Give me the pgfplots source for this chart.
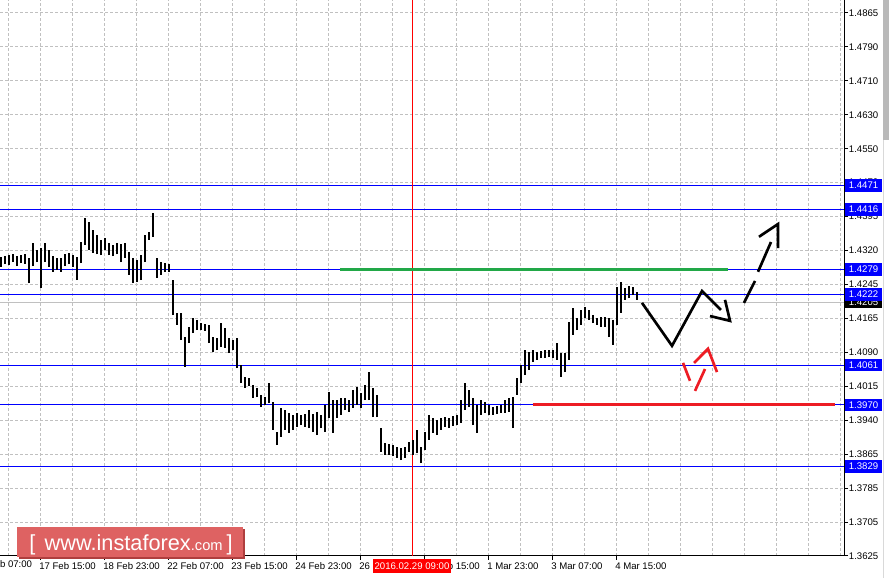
\documentclass[border=0pt]{standalone}
\usepackage{pgfplots}
\pgfplotsset{compat=1.18}
\usepackage{pgfplotstable}
\usepackage{fontspec}
\setmainfont{Liberation Sans}

\definecolor{gridgray}{RGB}{192,192,192}
\definecolor{lvlblue}{RGB}{0,0,255}
\definecolor{mtgreen}{RGB}{34,168,72}
\definecolor{mtred}{RGB}{237,28,36}
\definecolor{wmred}{RGB}{222,98,98}
\definecolor{wmdark}{RGB}{175,62,62}

% hourly bars, every second one kept: x position (chart px), high, low
\pgfplotstableread{
x h l
1 1.4308 1.4285
5 1.4310 1.4292
9 1.4312 1.4290
13 1.4314 1.4296
17 1.4310 1.4287
21 1.4312 1.4294
25 1.4314 1.4292
29 1.4305 1.4248
33 1.4340 1.4287
37 1.4324 1.4296
41 1.4328 1.4237
45 1.4340 1.4296
49 1.4324 1.4285
53 1.4310 1.4274
57 1.4305 1.4278
61 1.4305 1.4274
65 1.4314 1.4287
69 1.4317 1.4292
73 1.4312 1.4285
77 1.4308 1.4255
81 1.4342 1.4294
85 1.4397 1.4335
89 1.4388 1.4324
93 1.4370 1.4317
97 1.4358 1.4314
101 1.4347 1.4312
105 1.4351 1.4324
109 1.4340 1.4312
113 1.4335 1.4310
117 1.4340 1.4314
121 1.4338 1.4296
125 1.4340 1.4305
129 1.4319 1.4267
133 1.4305 1.4248
137 1.4301 1.4251
141 1.4312 1.4255
145 1.4358 1.4296
149 1.4365 1.4347
153 1.4408 1.4354
157 1.4305 1.4260
161 1.4296 1.4267
165 1.4294 1.4274
169 1.4292 1.4274
173 1.4255 1.4175
177 1.4180 1.4153
181 1.4180 1.4118
185 1.4125 1.4057
189 1.4148 1.4111
193 1.4168 1.4134
197 1.4164 1.4141
201 1.4157 1.4141
205 1.4155 1.4139
209 1.4153 1.4111
213 1.4125 1.4091
217 1.4123 1.4095
221 1.4157 1.4102
225 1.4146 1.4100
229 1.4123 1.4088
233 1.4118 1.4095
237 1.4123 1.4054
241 1.4061 1.4020
245 1.4034 1.4009
249 1.4031 1.4013
253 1.4015 1.3986
257 1.4009 1.3988
261 1.3993 1.3965
265 1.3988 1.3970
269 1.4020 1.3974
273 1.3977 1.3913
277 1.3908 1.3878
281 1.3963 1.3897
285 1.3958 1.3913
289 1.3952 1.3906
293 1.3947 1.3913
297 1.3952 1.3920
301 1.3947 1.3924
305 1.3949 1.3920
309 1.3958 1.3917
313 1.3949 1.3908
317 1.3954 1.3901
321 1.3947 1.3917
325 1.3970 1.3908
329 1.3999 1.3940
333 1.3981 1.3906
337 1.3981 1.3940
341 1.3986 1.3947
345 1.3986 1.3958
349 1.3981 1.3954
353 1.4004 1.3963
357 1.4011 1.3970
361 1.3997 1.3963
365 1.4015 1.3981
369 1.4045 1.3981
373 1.4009 1.3942
377 1.3993 1.3942
381 1.3917 1.3863
385 1.3883 1.3856
389 1.3881 1.3856
393 1.3879 1.3853
397 1.3874 1.3849
401 1.3872 1.3844
405 1.3874 1.3849
409 1.3885 1.3863
413 1.3890 1.3856
417 1.3913 1.3860
421 1.3874 1.3837
425 1.3908 1.3867
429 1.3947 1.3890
433 1.3940 1.3906
437 1.3936 1.3901
441 1.3940 1.3913
445 1.3942 1.3920
449 1.3940 1.3917
453 1.3945 1.3922
457 1.3947 1.3924
461 1.3981 1.3929
465 1.4020 1.3958
469 1.4004 1.3965
473 1.3986 1.3924
477 1.3970 1.3906
481 1.3981 1.3947
485 1.3977 1.3952
489 1.3970 1.3947
493 1.3965 1.3947
497 1.3968 1.3949
501 1.3970 1.3952
505 1.3981 1.3952
509 1.3986 1.3954
513 1.3988 1.3917
517 1.4031 1.3993
521 1.4061 1.4020
525 1.4095 1.4038
529 1.4091 1.4050
533 1.4095 1.4068
537 1.4091 1.4073
541 1.4093 1.4077
545 1.4095 1.4077
549 1.4095 1.4079
553 1.4095 1.4077
557 1.4111 1.4073
561 1.4088 1.4034
565 1.4088 1.4045
569 1.4159 1.4073
573 1.4191 1.4130
577 1.4168 1.4141
581 1.4187 1.4153
585 1.4194 1.4168
589 1.4187 1.4164
593 1.4175 1.4157
597 1.4168 1.4153
601 1.4171 1.4148
605 1.4171 1.4148
609 1.4168 1.4125
613 1.4164 1.4107
617 1.4239 1.4153
621 1.4250 1.4180
625 1.4237 1.4210
629 1.4242 1.4214
633 1.4239 1.4221
637 1.4228 1.4210
}\bars

\begin{document}
\begin{tikzpicture}
\begin{axis}[
  at={(0pt,16.5pt)}, anchor=south west,
  scale only axis, width=633pt, height=417pt,
  xmin=0, xmax=844, ymin=1.3625, ymax=1.48947,
  axis x line=bottom, axis y line=right,
  axis line style={-, black, line width=0.75pt},
  tick align=outside, major tick length=3pt, minor tick length=0pt,
  tick style={black, line width=0.75pt},
  xtick={40,104,...,616},
  xticklabels={17 Feb 15:00, 18 Feb 23:00, 22 Feb 07:00, 23 Feb 15:00, 24 Feb 23:00,
    26 Feb 07:00, 29 Feb 15:00, 1 Mar 23:00, 3 Mar 07:00, 4 Mar 15:00},
  minor xtick={8,40,...,840},
  ytick={1.3625,1.37025,1.378,1.38575,1.3935,1.40125,1.409,1.41675,1.4245,
    1.43225,1.44,1.44775,1.4555,1.46325,1.471,1.47875,1.4865},
  yticklabels={1.3625,1.3705,1.3785,1.3865,1.3940,1.4015,1.4090,1.4165,1.4245,
    1.4320,1.4395,1.4470,1.4550,1.4630,1.4710,1.4790,1.4865},
  grid=both,
  major grid style={gridgray, line width=0.75pt, dash pattern=on 2.25pt off 1.5pt},
  minor grid style={gridgray, line width=0.75pt, dash pattern=on 2.25pt off 1.5pt},
  xticklabel style={anchor=north west, inner sep=0pt, xshift=-0.75pt, yshift=-2pt,
    font=\fontsize{7.2}{8}\selectfont},
  yticklabel style={anchor=west, inner sep=0pt, xshift=0.5pt,
    font=\fontsize{7.2}{8}\selectfont},
]
% level lines
\addplot[gridgray, line width=0.75pt] coordinates {(0,1.4205) (844,1.4205)};
\addplot[lvlblue, line width=0.75pt] coordinates {(0,1.4471) (844,1.4471)};
\addplot[lvlblue, line width=0.75pt] coordinates {(0,1.4416) (844,1.4416)};
\addplot[lvlblue, line width=0.75pt] coordinates {(0,1.4279) (844,1.4279)};
\addplot[lvlblue, line width=0.75pt] coordinates {(0,1.4222) (844,1.4222)};
\addplot[lvlblue, line width=0.75pt] coordinates {(0,1.4061) (844,1.4061)};
\addplot[lvlblue, line width=0.75pt] coordinates {(0,1.3970) (844,1.3970)};
\addplot[lvlblue, line width=0.75pt] coordinates {(0,1.3829) (844,1.3829)};
\addplot[red, line width=0.75pt] coordinates {(412,1.3625) (412,1.48947)};
% price bars
\addplot[draw=none, forget plot,
  error bars/.cd, y dir=plus, y explicit, error mark=none,
  error bar style={draw=black, solid, line width=1.1pt}]
  table[x=x, y=l, y error expr=\thisrow{h}-\thisrow{l}] {\bars};
% drawn levels
\addplot[mtgreen, line width=2.2pt] coordinates {(340,1.4279) (728,1.4279)};
\addplot[mtred, line width=2.2pt] coordinates {(533,1.3970) (835,1.3970)};
% forecast arrows
\addplot[black, line width=2pt] coordinates {(642,1.4203) (672,1.4105) (702,1.4230) (721,1.4187)};
\addplot[black, line width=2pt] coordinates {(710,1.4173) (730,1.4162) (725,1.4210)};
\addplot[black, line width=2pt] coordinates {(744,1.4203) (755,1.4253)};
\addplot[black, line width=2pt] coordinates {(758,1.4274) (771,1.4342)};
\addplot[black, line width=2pt] coordinates {(759,1.4354) (778,1.4383) (778,1.4328)};
\addplot[mtred, line width=2pt] coordinates {(683,1.4066) (690,1.4025)};
\addplot[mtred, line width=2pt] coordinates {(695,1.4002) (705,1.4052)};
\addplot[mtred, line width=2pt] coordinates {(694,1.4066) (708,1.4098) (717,1.4045)};
% anchors for price boxes
\coordinate (b1) at (axis cs:863.5,1.4471);
\coordinate (b2) at (axis cs:863.5,1.4416);
\coordinate (b3) at (axis cs:863.5,1.4279);
\coordinate (b4) at (axis cs:863.5,1.4205);
\coordinate (b5) at (axis cs:863.5,1.4222);
\coordinate (b6) at (axis cs:863.5,1.4061);
\coordinate (b7) at (axis cs:863.5,1.3970);
\coordinate (b8) at (axis cs:863.5,1.3829);
\end{axis}

\tikzset{pbox/.style={fill=lvlblue, text=white, font=\fontsize{7.2}{8}\selectfont,
  inner sep=0pt, minimum width=28pt, minimum height=9.5pt}}
\node[pbox] at (b1) {1.4471};
\node[pbox] at (b2) {1.4416};
\node[pbox] at (b3) {1.4279};
\node[pbox, fill=black] at (b4) {1.4205};
\node[pbox] at (b5) {1.4222};
\node[pbox] at (b6) {1.4061};
\node[pbox] at (b7) {1.3970};
\node[pbox] at (b8) {1.3829};

\begin{scope}[x=0.75pt, y=-0.75pt, shift={(0pt,433.5pt)}]
  \node[anchor=north west, inner sep=0pt, font=\fontsize{7.2}{8}\selectfont] at (-24.75,560.5) {16 Feb 07:00};
  \node[fill=red, text=white, inner sep=0pt, minimum width=58.5pt, minimum height=11pt,
    font=\fontsize{7.2}{8}\selectfont] at (412,566) {2016.02.29 09:00};
  \fill[gray!55] (883,0) rectangle (889,140);
  \draw[gray!30, line width=0.75pt] (883.5,140) -- (883.5,578);
  % watermark
  \fill[wmdark] (19,529) rectangle (245,559);
  \fill[wmred] (17,527) rectangle (243,557);
  \node[anchor=base, text=white, inner sep=0pt] at (131,551)
    {\fontsize{16.3}{16}\selectfont [\hspace{7pt}www.instaforex\fontsize{11}{11}\selectfont.com\hspace{3pt}\fontsize{16.3}{16}\selectfont]};
\end{scope}
\pgfresetboundingbox
\useasboundingbox (0,0) rectangle (666.75pt,433.5pt);
\end{tikzpicture}
\end{document}
